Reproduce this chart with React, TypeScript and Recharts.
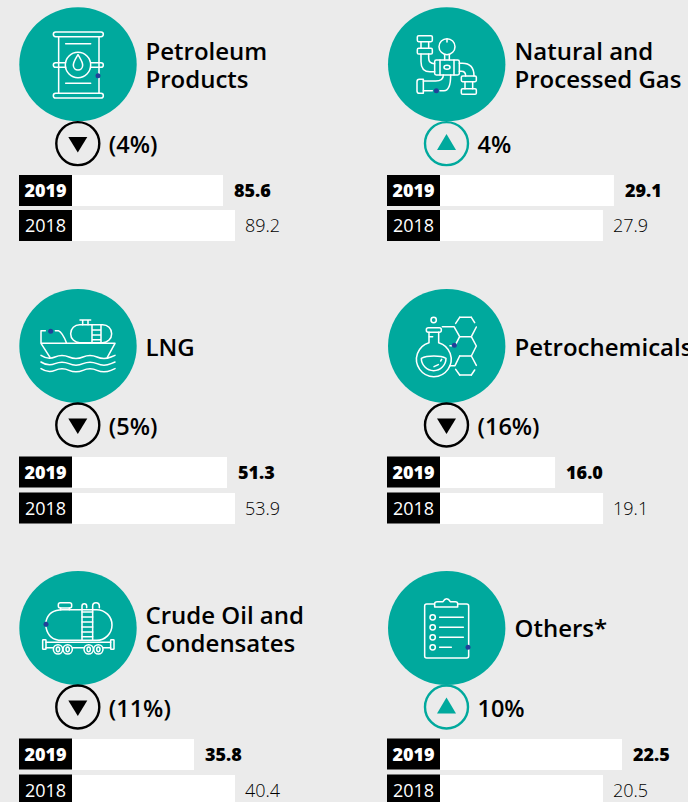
import { Bar, BarChart, LabelList, XAxis, YAxis } from "recharts";

const years = ["2019", "2018"];
const segments = [
  ["Petroleum", "Products"],
  ["Natural and", "Processed Gas"],
  ["LNG"],
  ["Petrochemicals"],
  ["Crude Oil and", "Condensates"],
  ["Others*"],
];
const values2019 = [85.6, 29.1, 51.3, 16.0, 35.8, 22.5];
const values2018 = [89.2, 27.9, 53.9, 19.1, 40.4, 20.5];
const changes = ["(4%)", "4%", "(5%)", "(16%)", "(11%)", "10%"];
const rising = [false, true, false, false, false, true];

// The bars in the source are not drawn to a common zero-based scale, so every
// panel gets its own truncated, hidden value axis.
const axisMin = [40.3, 10.12, 0.93, 8.57, 22.11, 3.34];
const axisMax = [114.4, 37.07, 81.2, 24.52, 49.82, 29.34];

const FONT = "'Open Sans', sans-serif";
const TEAL = "#00A99D";
const BLUE = "#23409A";
const BG = "#EBEBEB";

const COLS = [0, 344];
const ROWS = [0, 280, 562];
const CHART_TOP = [173, 453.5, 735.5];
const CHART_H = [70, 72, 72];
const CIRCLE_Y = [64.3, 346, 628];
const BADGE_Y = [143.6, 425, 707];
const TITLE_Y = [
  [60, 88],
  [60, 88],
  [356],
  [356],
  [624, 652],
  [637],
];

const line = { fill: "none", stroke: "#fff", strokeWidth: 4.6, strokeLinecap: "round", strokeLinejoin: "round" } as const;

// icons are in 3x crop coordinates, scaled down by the wrapping group
function Barrel() {
  return (
    <g {...line}>
      <rect x={160} y={96} width={150} height={14} rx={7} />
      <rect x={160} y={280} width={150} height={14} rx={7} />
      <path d="M176 110V280M297 110V280" />
      <path d="M197 188H167a7 7 0 0 0 0 14H197M272 188H303a7 7 0 0 1 0 14H272" />
      <circle cx={234} cy={195} r={38} />
      <path d="M234 164C226 178 220 186 220 196a14 14 0 0 0 28 0C248 186 242 178 234 164Z" />
      <path d="M197 131H272M197 250H272" />
      <circle cx={294} cy={227} r={7.5} fill={BLUE} stroke="none" />
    </g>
  );
}

function Pipes() {
  return (
    <g {...line}>
      <rect x={220} y={107} width={45} height={18} rx={4} />
      <rect x={220} y={145} width={45} height={17} rx={4} />
      <path d="M231 125V145M254 125V145" />
      <path d="M231 162V185Q231 215 258 215H272M254 162V175Q254 191 272 191" />
      <circle cx={309} cy={140} r={24} />
      <path d="M302 164V180M316 164V180M309 118V126" />
      <rect x={272} y={180} width={74} height={45} rx={5} />
      <path d="M288 180V225M330 180V225" />
      <ellipse cx={309} cy={202} rx={9} ry={6} />
      <path d="M346 190H355Q390 190 390 228M346 214H352Q365 214 365 228" />
      <rect x={352} y={228} width={45} height={17} rx={4} />
      <rect x={352} y={266} width={45} height={17} rx={4} />
      <path d="M363 245V266M386 245V266" />
      <path d="M238 243H275Q298 243 298 225M238 272H265M288 272H300Q320 272 320 225" />
      <path d="M238 238H226Q219 238 219 245V273Q219 280 226 280H238Z" />
      <circle cx={277} cy={272} r={7.5} fill={BLUE} stroke="none" />
    </g>
  );
}

function Ship() {
  return (
    <g {...line}>
      <path d="M123 190H345L322 232M123 190L150 232M123 190V152H136M166 152H175Q188 158 200 190" />
      <rect x={212} y={134} width={123} height={54} rx={27} />
      <path d="M276 134V188M303 134V188M276 150H303M276 165H303M276 179H303" />
      <path d="M240 120H272M248 120V134M264 120V134" />
      <path d="M123 226Q144 240 165 231T207 231T249 231T291 231T333 231L345 226" />
      <path d="M123 246Q144 260 165 251T207 251T249 251T291 251T333 251L345 246" />
      <path d="M123 266Q144 280 165 271T207 271T249 271T291 271T333 271L345 266" />
      <circle cx={152} cy={154} r={7.5} fill={BLUE} stroke="none" />
    </g>
  );
}

function Flask() {
  return (
    <g {...line}>
      <circle cx={269} cy={120} r={8} />
      <rect x={247} y={143} width={45} height={14} rx={6} />
      <path d="M255 157V188A52 52 0 1 0 284 188V157" />
      <path d="M256 170H266M232 235A37 37 0 0 0 306 235C290 226 250 226 232 235Z" />
      <path d="M270 260L283 254M290 243L293 238" />
      <path d="M295 140H330L347 170L333 197H318M318 257H333L347 228" />
      <path d="M347 112H382M347 170H382M347 228H382M347 285H382" />
      <path d="M382 170L397 198L382 228M382 112L392 128M382 170L397 141M382 228L397 256M382 285L392 270M347 112L335 130M347 285L335 268" />
      <circle cx={331} cy={196} r={7.5} fill={BLUE} stroke="none" />
    </g>
  );
}

function Tanker() {
  return (
    <g {...line}>
      <path d="M138 178Q146 143 188 143H290A46 46 0 0 1 290 235H185Q146 235 138 196" />
      <rect x={175} y={122} width={40} height={16} rx={6} />
      <path d="M182 138V143M208 138V143" />
      <path d="M246 235V132A7 7 0 0 1 260 132V137M278 235V132A9 9 0 0 1 298 132V137" />
      <path d="M246 150H278M246 165H278M246 180H278M246 195H278M246 210H278M246 224H278" />
      <path d="M138 241H332M138 257H158M218 257H250M310 257H332" />
      <rect x={128} y={233} width={10} height={29} rx={2} />
      <rect x={332} y={233} width={10} height={29} rx={2} />
      <circle cx={174} cy={262} r={14} />
      <circle cx={203} cy={262} r={14} />
      <circle cx={266} cy={262} r={14} />
      <circle cx={295} cy={262} r={14} />
      <ellipse cx={174} cy={262} rx={5} ry={7} />
      <ellipse cx={203} cy={262} rx={5} ry={7} />
      <ellipse cx={266} cy={262} rx={5} ry={7} />
      <ellipse cx={295} cy={262} rx={5} ry={7} />
      <circle cx={138} cy={187} r={7.5} fill={BLUE} stroke="none" />
    </g>
  );
}

function Clipboard() {
  return (
    <g {...line}>
      <rect x={242} y={126} width={132} height={162} rx={6} />
      <path d="M272 135V125Q272 119 280 119H297Q302 110 308 110Q314 110 319 119H334Q341 119 341 125V135Z" fill={TEAL} />
      {[166, 196, 226, 256].map((y) => (
        <circle key={y} cx={266} cy={y} r={8} />
      ))}
      <path d="M287 166H358M287 196H358M287 226H358M287 256H322" />
      <circle cx={372} cy={256} r={7.5} fill={BLUE} stroke="none" />
    </g>
  );
}

const ICONS = [Barrel, Pipes, Ship, Flask, Tanker, Clipboard];

function YearTick({ x, y, payload }: any) {
  const bold = payload.value === years[0];
  return (
    <g>
      <rect x={0} y={y - 15.5} width={53} height={31} fill="#000" />
      <text
        x={26.5}
        y={y + 6.5}
        textAnchor="middle"
        fill="#fff"
        fontFamily={FONT}
        fontSize={18}
        fontWeight={bold ? 800 : 400}
      >
        {payload.value}
      </text>
    </g>
  );
}

function ValueLabel({ x, y, width, height, value, index }: any) {
  const bold = index === 0;
  return (
    <text
      x={x + width + (bold ? 11 : 10)}
      y={y + height / 2 + 6.5}
      fill="#000"
      fontFamily={FONT}
      fontSize={18}
      fontWeight={bold ? 800 : 300}
    >
      {Number(value).toFixed(1)}
    </text>
  );
}

function Header({ i }: { i: number }) {
  const col = i % 2;
  const row = Math.floor(i / 2);
  const ox = COLS[col];
  const Icon = ICONS[i];
  const cx = ox + (col ? 102.7 : 78);
  const bx = ox + (col ? 102.5 : 77.8);
  const tx = ox + (col ? 170.5 : 145.5);
  const by = BADGE_Y[row];
  const up = rising[i];
  return (
    <g>
      <ellipse cx={cx} cy={CIRCLE_Y[row]} rx={58.7} ry={57} fill={TEAL} />
      <g transform={`translate(${ox} ${ROWS[row]}) scale(${1 / 3})`}>
        <Icon />
      </g>
      {segments[i].map((t, k) => (
        <text
          key={t}
          x={tx}
          y={TITLE_Y[i][k]}
          fontFamily={FONT}
          fontSize={24}
          fontWeight={600}
          fill="#000"
        >
          {t}
        </text>
      ))}
      <circle cx={bx} cy={by} r={21.5} fill="none" stroke={up ? TEAL : "#000"} strokeWidth={2.4} />
      <path
        d={
          up
            ? `M${bx - 9.5} ${by + 6.5}L${bx} ${by - 9.5}L${bx + 9.5} ${by + 6.5}Z`
            : `M${bx - 9.5} ${by - 6.5}L${bx} ${by + 9}L${bx + 9.5} ${by - 6.5}Z`
        }
        fill={up ? TEAL : "#000"}
      />
      <text x={bx + 31} y={by + 9.5} fontFamily={FONT} fontSize={23.5} fontWeight={600} fill="#000">
        {changes[i]}
      </text>
    </g>
  );
}

function Bars({ i }: { i: number }) {
  const col = i % 2;
  const row = Math.floor(i / 2);
  const data = years.map((year, k) => ({
    year,
    value: k === 0 ? values2019[i] : values2018[i],
  }));
  return (
    <div style={{ position: "absolute", left: COLS[col] + (col ? 43 : 19), top: CHART_TOP[row] }}>
      <BarChart
        width={300}
        height={CHART_H[row]}
        data={data}
        layout="vertical"
        margin={{ top: 0, right: 0, bottom: 0, left: 0 }}
        barCategoryGap={0}
      >
        <XAxis type="number" hide domain={[axisMin[i], axisMax[i]]} allowDataOverflow />
        <YAxis
          type="category"
          dataKey="year"
          width={53}
          axisLine={false}
          tickLine={false}
          tick={<YearTick />}
        />
        <Bar dataKey="value" fill="#fff" barSize={31} isAnimationActive={false}>
          <LabelList dataKey="value" content={<ValueLabel />} />
        </Bar>
      </BarChart>
    </div>
  );
}

export default function App() {
  return (
    <div
      style={{
        position: "absolute",
        left: 0,
        top: 0,
        width: 688,
        height: 802,
        overflow: "hidden",
        background: BG,
      }}
    >
      <svg width={688} height={802} style={{ position: "absolute", left: 0, top: 0 }}>
        {segments.map((_, i) => (
          <Header key={i} i={i} />
        ))}
      </svg>
      {segments.map((_, i) => (
        <Bars key={i} i={i} />
      ))}
    </div>
  );
}
